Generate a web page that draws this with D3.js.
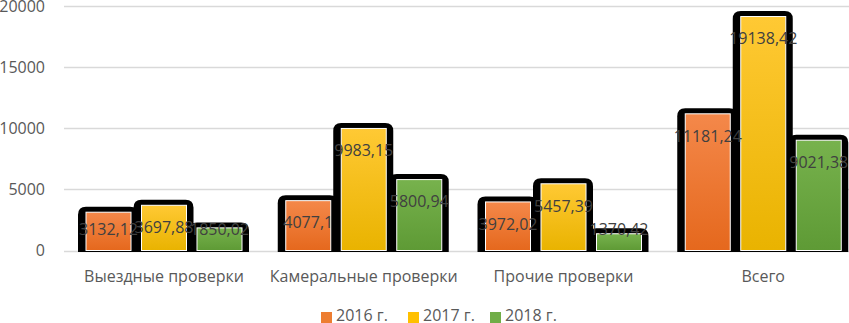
<!DOCTYPE html>
<html>
<head>
<meta charset="utf-8">
<script src="https://cdn.jsdelivr.net/npm/d3@7"></script>
<style>
  body { margin: 0; background: #fff; }
  text { font-family: "Open Sans", sans-serif; }
</style>
</head>
<body>
<script>
const categories = ["Выездные проверки", "Камеральные проверки", "Прочие проверки", "Всего"];
const years = ["2016 г.", "2017 г.", "2018 г."];
const values2016 = [3132.12, 4077.1, 3972.02, 11181.24];
const values2017 = [3697.88, 9983.15, 5457.39, 19138.42];
const values2018 = [1850.02, 5800.94, 1370.42, 9021.38];
const labels2016 = ["3132,12", "4077,1", "3972,02", "11181,24"];
const labels2017 = ["3697,88", "9983,15", "5457,39", "19138,42"];
const labels2018 = ["1850,02", "5800,94", "1370,42", "9021,38"];
const yTicks = [0, 5000, 10000, 15000, 20000];

const seriesValues = [values2016, values2017, values2018];
const seriesLabels = [labels2016, labels2017, labels2018];
const colors = [
  { top: "#F4884A", bottom: "#E5681D", key: "#ED7D31" },
  { top: "#FFC934", bottom: "#E9B300", key: "#FFC000" },
  { top: "#77B24D", bottom: "#5E9A35", key: "#70AD47" }
];

const W = 849, H = 323;
const svg = d3.select("body").append("svg")
  .attr("width", W).attr("height", H);

const defs = svg.append("defs");
colors.forEach((c, i) => {
  const g = defs.append("linearGradient")
    .attr("id", "grad" + i)
    .attr("x1", 0).attr("y1", 0).attr("x2", 0).attr("y2", 1);
  g.append("stop").attr("offset", "0%").attr("stop-color", c.top);
  g.append("stop").attr("offset", "100%").attr("stop-color", c.bottom);
});

const x0 = d3.scaleBand().domain(categories).range([64, 863]);
const x1 = d3.scaleBand().domain(years).range([22, 188.5]);
const y = d3.scaleLinear().domain([0, 20000]).range([250.5, 6]);

// сетка
svg.append("g").selectAll("line")
  .data(yTicks)
  .join("line")
  .attr("x1", 64).attr("x2", W)
  .attr("y1", d => Math.round(y(d)) + 0.5)
  .attr("y2", d => Math.round(y(d)) + 0.5)
  .attr("stroke", "#D9D9D9")
  .attr("stroke-width", 1.5);

// подписи оси Y
svg.append("g").selectAll("text")
  .data(yTicks)
  .join("text")
  .attr("x", 45)
  .attr("y", d => y(d))
  .attr("dy", "0.36em")
  .attr("text-anchor", "end")
  .attr("font-size", 16)
  .attr("fill", "#595959")
  .text(d => d);

const barW = x1.bandwidth() - 10.5;
const base = y(0);

function shadowPath(x, top, w) {
  const l = x - 8, r = x + w + 7, t = top - 5.5, b = base + 1.5, rr = 8;
  return `M${l},${b} L${l},${t + rr} Q${l},${t} ${l + rr},${t} L${r - rr},${t} Q${r},${t} ${r},${t + rr} L${r},${b} Z`;
}

// столбцы
const bars = svg.append("g");
years.forEach((yr, si) => {
  categories.forEach((cat, ci) => {
    const v = seriesValues[si][ci];
    const bx = x0(cat) + x1(yr);
    const top = y(v);
    bars.append("path")
      .attr("d", shadowPath(bx, top, barW))
      .attr("fill", "#000");
    bars.append("rect")
      .attr("x", bx).attr("y", top)
      .attr("width", barW).attr("height", base - top)
      .attr("fill", `url(#grad${si})`)
      .attr("stroke", "#fff")
      .attr("stroke-width", 1);
  });
});

// подписи значений
const labels = svg.append("g");
years.forEach((yr, si) => {
  categories.forEach((cat, ci) => {
    const v = seriesValues[si][ci];
    const cx = x0(cat) + x1(yr) + barW / 2;
    const cy = Math.min(y(v) + 22, 229);
    labels.append("text")
      .attr("x", cx).attr("y", cy)
      .attr("dy", "0.36em")
      .attr("text-anchor", "middle")
      .attr("font-size", 16)
      .attr("fill", "#404040")
      .text(seriesLabels[si][ci]);
  });
});

// подписи категорий
svg.append("g").selectAll("text")
  .data(categories)
  .join("text")
  .attr("x", d => x0(d) + x1("2017 г.") + barW / 2)
  .attr("y", 282)
  .attr("text-anchor", "middle")
  .attr("font-size", 16)
  .attr("fill", "#595959")
  .text(d => d);

// легенда
const legendX = [321, 408, 490];
const legend = svg.append("g");
years.forEach((yr, i) => {
  legend.append("rect")
    .attr("x", legendX[i]).attr("y", 312)
    .attr("width", 11).attr("height", 11)
    .attr("fill", colors[i].key);
  legend.append("text")
    .attr("x", legendX[i] + 15).attr("y", 321)
    .attr("font-size", 16)
    .attr("fill", "#595959")
    .text(yr);
});
</script>
</body>
</html>
